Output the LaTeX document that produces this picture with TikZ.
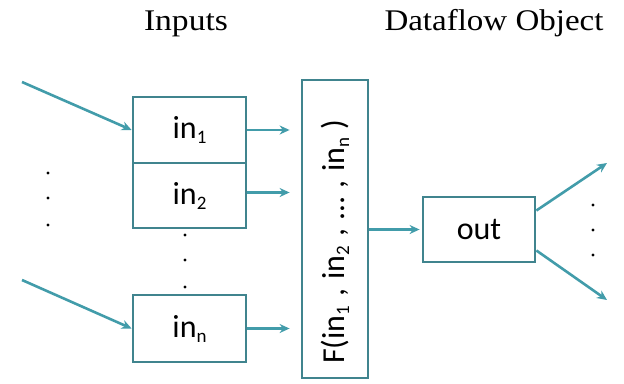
\documentclass[tikz,border=0pt]{standalone}
\usepackage{fontspec}
\setmainfont{Liberation Serif}
\newfontfamily\boxfont{Carlito}
\usetikzlibrary{arrows.meta}
\definecolor{boxline}{RGB}{64,132,142}
\definecolor{flow}{RGB}{66,156,170}
% small lowered index used in the cell labels
\newcommand{\idx}[1]{\raisebox{-5pt}{\fontsize{19}{19}\selectfont #1}}
\newcommand{\argsep}{\hspace{9pt},\hspace{9pt}}
\begin{document}
\begin{tikzpicture}[x=1pt,y=-1pt,
  cell/.style={draw=boxline,line width=2.8pt,fill=white,inner sep=0pt,
    font=\boxfont\fontsize{32}{32}\selectfont},
  flowarrow/.style={draw=flow,line width=2.6pt,-{Stealth[length=10pt,width=9pt]}},
  hdr/.style={font=\fontsize{30}{30}\selectfont,inner sep=0pt,anchor=base},
  dot/.style={circle,fill=black,inner sep=0pt,minimum size=3.4pt},
  ftext/.style={font=\boxfont\fontsize{32}{32}\selectfont,inner sep=0pt,rotate=90}]
\useasboundingbox (0,0) rectangle (624,383);

% column headings
\node[hdr] (hin) at (186,30) {\scalebox{1.12}[1]{Inputs}};
\node[hdr] (hobj) at (494,30) {\scalebox{1.1}[1]{Dataflow Object}};

% input cells
\node[cell,minimum width=113pt,minimum height=66pt] (in1) at (189.5,130) {in\idx{1}};
\node[cell,minimum width=113pt,minimum height=65pt] (in2) at (189.5,195.5) {in\idx{2}};
\node[cell,minimum width=113pt,minimum height=67pt] (inn) at (189.5,328.5) {in\idx{n}};

% function box
\node[cell,minimum width=66pt,minimum height=298pt] (F) at (335,229) {};
\node[ftext] (ftxt) at (335,242) {F(in\idx{1}\argsep in\idx{2}\argsep …\argsep in\idx{n}\hspace{8pt})};

% output cell
\node[cell,minimum width=112pt,minimum height=65pt] (out) at (479,229.5) {out};

% free ends of the outer connectors
\coordinate (s1) at (22,82);
\coordinate (sn) at (22,280);
\coordinate (t1) at (607,163);
\coordinate (t2) at (607,300);

% connectors
\draw[flowarrow] (s1) -- (in1.west);
\draw[flowarrow] (sn) -- (inn.west);
\draw[flowarrow,shorten >=11pt] (in1.east) -- (in1.east -| F.west);
\draw[flowarrow,shorten >=11pt] ([yshift=3pt]in2.east) -- ([yshift=3pt]in2.east -| F.west);
\draw[flowarrow,shorten >=11pt] (inn.east) -- (inn.east -| F.west);
\draw[flowarrow,shorten >=2pt] (F.east |- out.west) -- (out.west);
\draw[flowarrow] ([yshift=19pt]out.east) -- (t1);
\draw[flowarrow] ([yshift=-21pt]out.east) -- (t2);

% ellipsis dots
\foreach \y [count=\i] in {173,198,225} \node[dot] (dl\i) at (48,\y) {};
\foreach \y [count=\i] in {235,260,287} \node[dot] (dm\i) at (185,\y) {};
\foreach \y [count=\i] in {205,230,255} \node[dot] (dr\i) at (593,\y) {};
\end{tikzpicture}
\end{document}
